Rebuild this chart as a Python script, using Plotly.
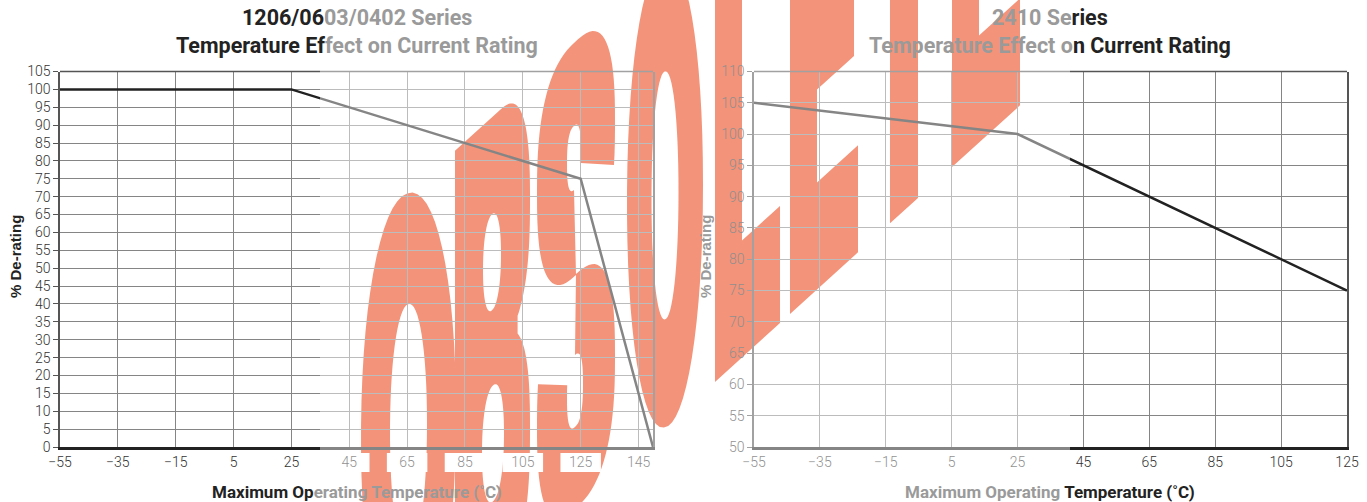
import numpy as np
import plotly.graph_objects as go

# 1206/0603/0402 series: temperature vs % de-rating
small_temp = [-55, 25, 125, 150]
small_rating = [100, 100, 75, 0]

# 2410 series
big_temp = [-55, 25, 125]
big_rating = [105, 100, 75]

small_xticks = [-55, -35, -15, 5, 25, 45, 65, 85, 105, 125, 145]
small_yticks = list(range(0, 106, 5))
big_xticks = [-55, -35, -15, 5, 25, 45, 65, 85, 105, 125]
big_yticks = list(range(50, 111, 5))

FIG_W, FIG_H = 1367, 502
TICK_FONT = "Roboto, Arial, sans-serif"
TITLE_FONT = "Roboto, Arial, sans-serif"
DARK = "#222222"
GREY = "#9a9a9a"
STAMP = "rgb(233,59,12)"   # looks salmon once the white band is laid over it


def px(x):
    return x / FIG_W


def py(y):
    return 1 - y / FIG_H


# ---- watermark: tall block letters climbing to the right ----
SHEAR = 0.907
BASE_X, BASE_Y = 715, 382
CAP = 467


def warp(x0, u, v, ref=0.0, k=SHEAR):
    # baseline follows the global slope, letter body may lean less (k)
    X = x0 + u
    Y = BASE_Y - SHEAR * (x0 + ref - BASE_X) - k * (u - ref) - v
    return px(X), py(Y)


def superellipse(cx, cy, rx, ry, a0, a1, n=64, p=2.6):
    t = np.radians(np.linspace(a0, a1, n))
    c, s = np.cos(t), np.sin(t)
    xs = cx + rx * np.sign(c) * np.abs(c) ** (2 / p)
    ys = cy + ry * np.sign(s) * np.abs(s) ** (2 / p)
    return list(zip(xs, ys))


def letter_path(x0, polys, ref=0.0, k=SHEAR):
    d = ""
    for poly in polys:
        pts = [warp(x0, u, v, ref, k) for u, v in poly]
        d += "M" + "L".join(f"{a:.5f},{b:.5f}" for a, b in pts) + "Z"
    return d


def letter_O(w, hole_rx):
    outer = superellipse(w / 2, CAP / 2, w / 2, CAP / 2, 0, 360, p=2.1)
    inner = superellipse(w / 2, 232, hole_rx, 124, 0, 360, p=2.1)
    return [[outer, inner]], w / 2, 0.25


def letter_B():
    outer = [(0, 0), (0, CAP)]
    outer += superellipse(45, 350, 30, 117, 90, -60)
    outer += superellipse(45, 120, 30, 120, 60, -90)
    holes = [superellipse(37, 322, 9, 48, 0, 360, p=2.2),
             superellipse(38, 140, 11, 58, 0, 360, p=2.2)]
    return [[outer] + holes], 0.0, SHEAR


def letter_S():
    up = superellipse(39, 350, 39, 117, -15, 270) + superellipse(37, 352, 7, 32, 270, -15)
    low = superellipse(39, 117, 39, 117, 90, -195) + superellipse(38, 118, 8, 36, -195, 90)
    return [[up], [low]], 0.0, SHEAR


def letter_L(w):
    return [[[(0, 0), (w, 0), (w, 117), (27, 117), (27, CAP), (0, CAP)]]], 0.0, SHEAR


def letter_E(w):
    return [[[(0, 0), (w, 0), (w, 107), (27, 107), (27, 200), (w - 4, 200),
              (w - 4, 290), (27, 290), (27, 375), (w, 375), (w, CAP), (0, CAP)]]], 0.0, SHEAR


def letter_T(w):
    return [[[(28, 0), (56, 0), (56, 375), (w, 375), (w, CAP), (0, CAP), (0, 375), (28, 375)]]], 0.0, SHEAR


watermark = [
    (361, letter_O(95, 18.5)),
    (455, letter_B()),
    (537, letter_S()),
    (627, letter_O(76, 13.5)),
    (715, letter_L(65)),
    (790, letter_E(68)),
    (862, letter_T(84)),
    (952, letter_E(68)),
]

shapes = []
for x0, (pieces, ref, k) in watermark:
    for polys in pieces:
        shapes.append(dict(type="path", xref="paper", yref="paper",
                           path=letter_path(x0, polys, ref, k),
                           fillcolor=STAMP, line_width=0, layer="below"))

# white boxes the stamp leaves behind the lower tick labels
for t in small_xticks[5:]:
    shapes.append(dict(type="rect", xref="x", yref="paper", x0=t - 7, x1=t + 7,
                       y0=py(472), y1=py(453), fillcolor="white", line_width=0, layer="below"))

# top borders of both plots
for xr, yr in [("x domain", "y domain"), ("x2 domain", "y2 domain")]:
    shapes.append(dict(type="line", xref=xr, yref=yr, x0=0, x1=1, y0=1, y1=1,
                       line=dict(color="#555", width=1.5), layer="above"))

# washed-out band of the obsolete stamp
shapes.append(dict(type="rect", xref="paper", yref="paper", x0=px(320), x1=px(1070),
                   y0=0, y1=1, fillcolor="white", opacity=0.45, line_width=0, layer="above"))

fig = go.Figure()
fig.add_trace(go.Scatter(x=small_temp, y=small_rating, mode="lines", xaxis="x", yaxis="y",
                         line=dict(color=DARK, width=2.5), hoverinfo="skip", showlegend=False))
fig.add_trace(go.Scatter(x=big_temp, y=big_rating, mode="lines", xaxis="x2", yaxis="y2",
                         line=dict(color=DARK, width=2.5), hoverinfo="skip", showlegend=False))

tickfont = dict(family=TICK_FONT, size=14, color="#333", weight=300)
xcommon = dict(showgrid=True, gridcolor="#858585", gridwidth=1, zeroline=False,
               showline=True, linecolor=DARK, linewidth=3, ticks="",
               tickfont=tickfont, fixedrange=True)
ycommon = dict(showgrid=True, gridcolor="#858585", gridwidth=1, zeroline=False,
               showline=True, mirror=True, linecolor="#555", linewidth=1.5,
               ticks="outside", ticklen=5, tickcolor="#555",
               tickfont=tickfont, fixedrange=True)

fig.update_layout(
    width=FIG_W, height=FIG_H, template="none",
    margin=dict(l=0, r=0, t=0, b=0),
    paper_bgcolor="white", plot_bgcolor="rgba(0,0,0,0)",
    xaxis=dict(xcommon, domain=[px(60), px(653)], range=[-55, 150], tickvals=small_xticks, anchor="y"),
    yaxis=dict(ycommon, domain=[py(447), py(71.5)], range=[0, 105], tickvals=small_yticks, anchor="x"),
    xaxis2=dict(xcommon, domain=[px(754), px(1347)], range=[-55, 125], tickvals=big_xticks, anchor="y2"),
    yaxis2=dict(ycommon, domain=[py(447), py(71.5)], range=[50, 110], tickvals=big_yticks, anchor="x2"),
    shapes=shapes,
)


def g(s):
    return f"<span style='color:{GREY}'>{s}</span>"


def d(s):
    return f"<span style='color:{DARK}'>{s}</span>"


title_font = dict(family=TITLE_FONT, size=21.5, color=DARK)
axis_font = dict(family=TITLE_FONT, size=17, color=DARK)
ylab_font = dict(family="Liberation Sans, Arial, sans-serif", size=15)
notes = [
    (356.5, 18, "<b>" + d("1206/06") + g("03/0402 Series") + "</b>", title_font, 0),
    (356.5, 45, "<b>" + d("Temperature Ef") + g("fect on Current Rating") + "</b>", title_font, 0),
    (1050, 18, "<b>" + g("2410 Se") + d("ries") + "</b>", title_font, 0),
    (1050, 45, "<b>" + g("Temperature Effect o") + d("n Current Rating") + "</b>", title_font, 0),
    (356.5, 492, "<b>" + d("Maximum Op") + g("erating Temperature (˚C)") + "</b>", axis_font, 0),
    (1050, 492, "<b>" + g("Maximum Operating ") + d("Temperature (˚C)") + "</b>", axis_font, 0),
    (15, 257, "<b>" + d("% De-rating") + "</b>", ylab_font, -90),
    (705, 257, "<b>" + g("% De-rating") + "</b>", ylab_font, -90),
]
for x, y, text, font, ang in notes:
    fig.add_annotation(x=px(x), y=py(y), xref="paper", yref="paper", text=text,
                       showarrow=False, font=font, textangle=ang,
                       xanchor="center", yanchor="middle")

fig.write_html("out.html", config={"displayModeBar": False},
               post_script="document.body.style.margin='0px';")
